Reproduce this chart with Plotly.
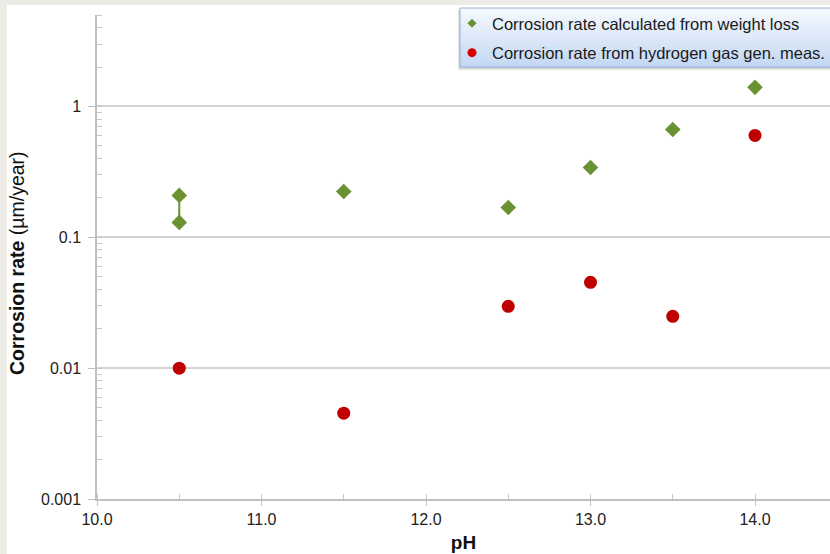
import plotly.graph_objects as go

# Corrosion rate vs pH
ph_weight = [10.5, 10.5, 11.5, 12.5, 13.0, 13.5, 14.0]
rate_weight = [0.209, 0.130, 0.224, 0.169, 0.342, 0.667, 1.40]

ph_hydrogen = [10.5, 11.5, 12.5, 13.0, 13.5, 14.0]
rate_hydrogen = [0.0100, 0.00453, 0.0297, 0.0453, 0.0249, 0.601]

x_tickvals = [10, 11, 12, 13, 14]
x_ticktext = ["10.0", "11.0", "12.0", "13.0", "14.0"]
y_tickvals = [0.001, 0.01, 0.1, 1]
y_ticktext = ["0.001", "0.01", "0.1", "1"]

NAME_W = "Corrosion rate calculated from weight loss"
NAME_H = "Corrosion rate from hydrogen gas gen. meas."

W, H = 830, 554
ML, MR, MT, MB = 97, 0, 15, 55
PW, PH = W - ML - MR, H - MT - MB


def px_x(px):
    return (px - ML) / PW


def px_y(py):
    return (H - MB - py) / PH


GREEN = "#6a9232"
RED = "#c00000"
FONT = "Liberation Sans, Arial, sans-serif"

# vertical segments joining repeated measurements at the same pH
seg_x, seg_y = [], []
for p in sorted(set(ph_weight)):
    vals = [r for x, r in zip(ph_weight, rate_weight) if x == p]
    if len(vals) > 1:
        seg_x += [p, p, None]
        seg_y += [min(vals), max(vals), None]

fig = go.Figure()
fig.add_trace(go.Scatter(
    x=seg_x, y=seg_y, mode="lines",
    line=dict(color=GREEN, width=2), showlegend=False, hoverinfo="skip"))
fig.add_trace(go.Scatter(
    x=ph_weight, y=rate_weight, mode="markers", name=NAME_W,
    showlegend=False,
    marker=dict(symbol="diamond", size=12, color=GREEN)))
fig.add_trace(go.Scatter(
    x=ph_hydrogen, y=rate_hydrogen, mode="markers", name=NAME_H,
    showlegend=False,
    marker=dict(symbol="circle", size=13, color=RED)))

# legend entries with smaller key symbols
fig.add_trace(go.Scatter(
    x=[None], y=[None], mode="markers", name=NAME_W, legendgroup="a",
    marker=dict(symbol="diamond", size=7, color=GREEN)))
fig.add_trace(go.Scatter(
    x=[None], y=[None], mode="markers", name=NAME_H, legendgroup="b",
    marker=dict(symbol="circle", size=9, color="#d40000")))

shapes = []
# white page inside the grey frame
shapes.append(dict(type="rect", xref="paper", yref="paper",
                   x0=px_x(7), x1=px_x(W + 5), y0=px_y(H + 5), y1=px_y(5),
                   fillcolor="white", line=dict(width=0), layer="below"))

# legend panel: shadow then vertical gradient
lx0, lx1, ly0, ly1 = 460, W + 10, 8, 67
for i, c in enumerate(["#e6e6e6", "#d6d6d6", "#c4c4c4"]):
    off = 3 - i
    shapes.append(dict(type="rect", xref="paper", yref="paper",
                       x0=px_x(lx0 - off + 1), x1=px_x(lx1),
                       y0=px_y(ly1 + off), y1=px_y(ly0 + 2),
                       fillcolor=c, line=dict(width=0), layer="below"))
top_rgb = (246, 249, 254)
bot_rgb = (196, 216, 244)
n = 24
for i in range(n):
    t = i / (n - 1)
    rgb = tuple(int(round(a + (b - a) * t)) for a, b in zip(top_rgb, bot_rgb))
    y0 = ly0 + (ly1 - ly0) * i / n
    y1 = ly0 + (ly1 - ly0) * (i + 1) / n
    shapes.append(dict(type="rect", xref="paper", yref="paper",
                       x0=px_x(lx0), x1=px_x(lx1), y0=px_y(y1 + 0.5), y1=px_y(y0),
                       fillcolor="rgb(%d,%d,%d)" % rgb, line=dict(width=0),
                       layer="below"))
shapes.append(dict(type="rect", xref="paper", yref="paper",
                   x0=px_x(lx0), x1=px_x(lx1), y0=px_y(ly1), y1=px_y(ly0),
                   fillcolor="rgba(0,0,0,0)", line=dict(color="#97b1d8", width=1),
                   layer="below"))

fig.update_layout(
    width=W, height=H,
    margin=dict(l=ML, r=MR, t=MT, b=MB, pad=0),
    paper_bgcolor="#ecebe6",
    plot_bgcolor="rgba(0,0,0,0)",
    font=dict(family=FONT, size=16, color="#222222"),
    shapes=shapes,
    showlegend=True,
    legend=dict(
        x=px_x(452), y=px_y(6), xanchor="left", yanchor="top",
        bgcolor="rgba(0,0,0,0)", borderwidth=0,
        font=dict(family=FONT, size=16.5, color="#1a1a1a"),
        traceorder="grouped", tracegroupgap=5, itemsizing="trace",
    ),
    xaxis=dict(
        range=[10, 10 + (W - ML) / 164.5], tickmode="array",
        tickvals=x_tickvals, ticktext=x_ticktext,
        showgrid=False, zeroline=False,
        showline=True, linecolor="#bfbfbf", linewidth=1.5,
        ticks="outside", ticklen=5, tickcolor="#bfbfbf", tickwidth=1,
        minor=dict(dtick=0.5, ticks="inside", ticklen=5, tickcolor="#c8c8c8",
                   showgrid=False),
        tickfont=dict(size=16, color="#222222"),
        title=dict(text="<b>pH</b>", font=dict(size=19, color="#111111"),
                   standoff=9),
    ),
    yaxis=dict(
        type="log", range=[-3, 0.699], tickmode="array",
        tickvals=y_tickvals, ticktext=y_ticktext,
        showgrid=True, gridcolor="#d4d4d4", gridwidth=1.5,
        zeroline=False,
        showline=True, linecolor="#bfbfbf", linewidth=1.5,
        ticks="outside", ticklen=7, tickcolor="#bfbfbf",
        minor=dict(dtick="D1", ticks="inside", ticklen=5, tickcolor="#c8c8c8",
                   showgrid=False),
        tickfont=dict(size=16, color="#222222"),
        ticklabelstandoff=4,
    ),
    annotations=[dict(
        text="<b>Corrosion rate</b> (µm/year)", textangle=-90,
        xref="paper", yref="paper", x=px_x(17), y=px_y(263),
        xanchor="center", yanchor="middle", showarrow=False,
        font=dict(family=FONT, size=19.5, color="#111111"))],
)

fig.write_html("out.html")
